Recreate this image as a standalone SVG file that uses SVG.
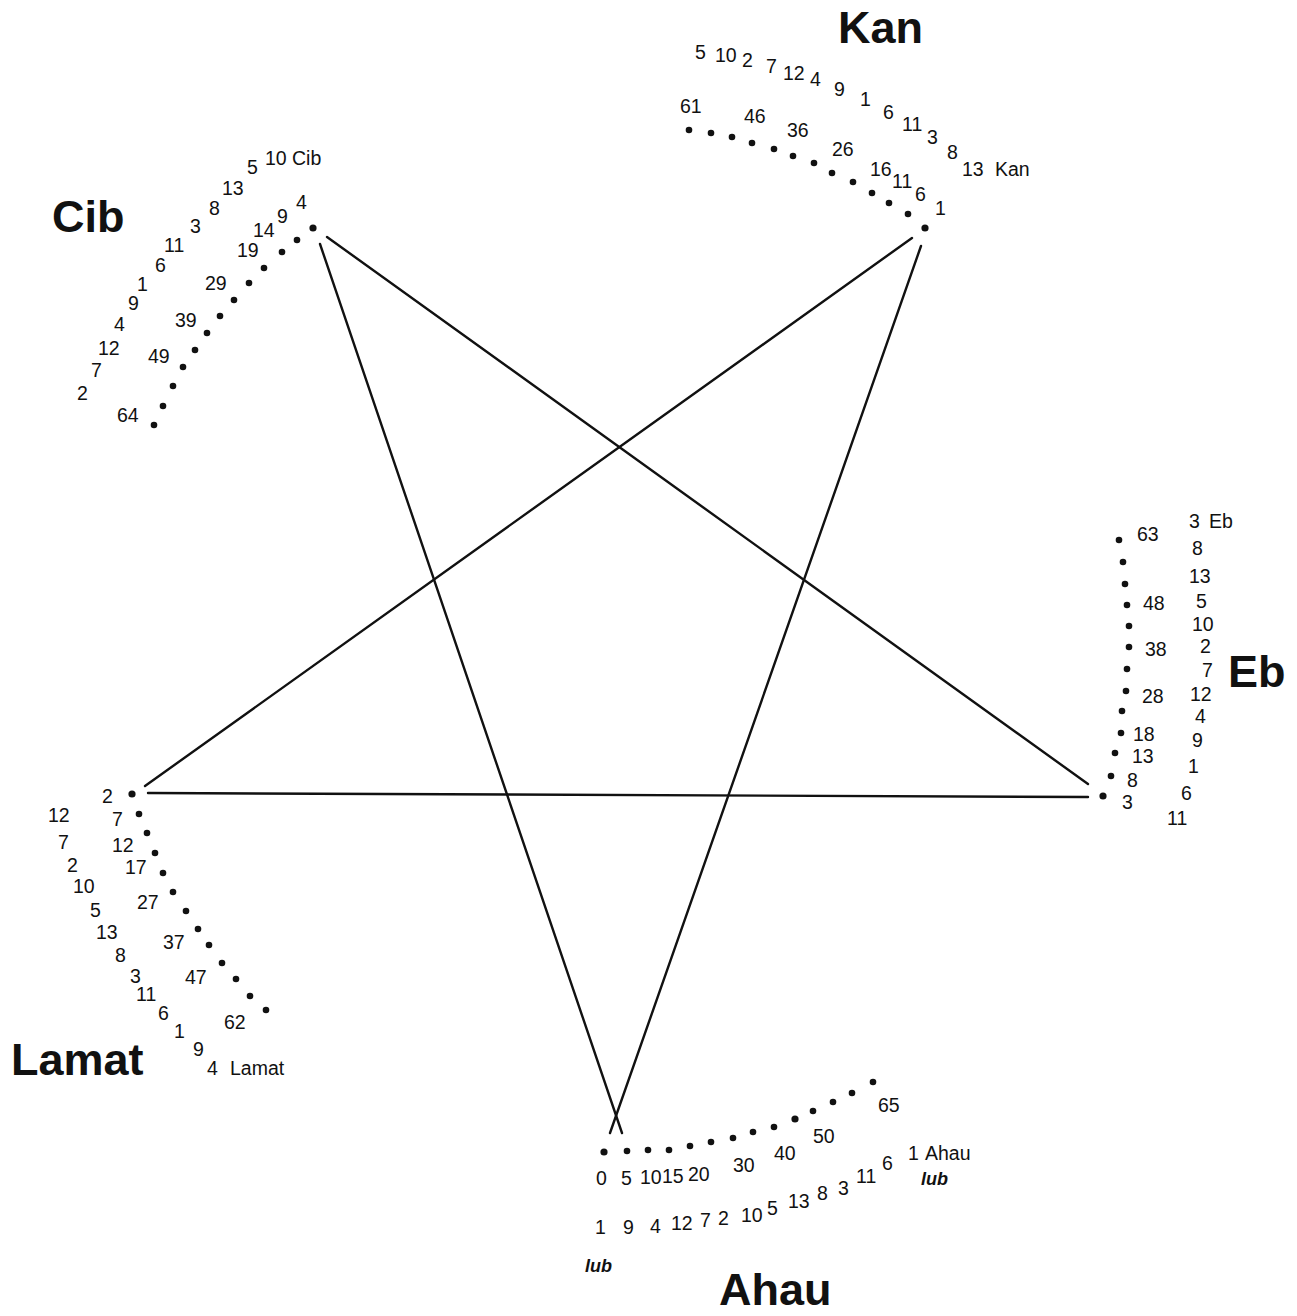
<svg xmlns="http://www.w3.org/2000/svg" width="1297" height="1316" viewBox="0 0 1297 1316">
<style>
text{font-family:"Liberation Sans",Arial,sans-serif;fill:#111}
.n{font-size:19.5px}
.b{font-size:45px;font-weight:bold}
.i{font-size:18px;font-style:italic;font-weight:bold}
.d circle{fill:#111}
.c line{stroke:#111;stroke-width:2.4;stroke-linecap:round}
</style>
<rect width="1297" height="1316" fill="#fff"/>
<g id="connectors" class="c">
<line x1="327" y1="237" x2="1088" y2="784"/>
<line x1="320" y1="244" x2="622" y2="1133"/>
<line x1="912" y1="238" x2="145" y2="786"/>
<line x1="921" y1="246" x2="610" y2="1133"/>
<line x1="148" y1="793" x2="1088" y2="797"/>
</g>
<g id="kan">
<text class="b" x="838" y="43">Kan</text>
<g class="d">
<circle cx="689" cy="130" r="3.3"/><circle cx="711" cy="133" r="3.3"/><circle cx="732" cy="137" r="3.3"/><circle cx="752" cy="143" r="3.3"/><circle cx="774" cy="149" r="3.3"/><circle cx="793" cy="156" r="3.3"/><circle cx="814" cy="163" r="3.3"/><circle cx="832" cy="173" r="3.3"/><circle cx="853" cy="182" r="3.3"/><circle cx="872" cy="193" r="3.3"/><circle cx="889" cy="203" r="3.3"/><circle cx="908" cy="214" r="3.3"/><circle cx="925" cy="228" r="3.6"/>
</g>
<g class="n">
<text x="695" y="59">5</text><text x="715" y="62">10</text><text x="742" y="67">2</text><text x="766" y="73">7</text><text x="783" y="80">12</text><text x="810" y="86">4</text><text x="834" y="96">9</text><text x="860" y="106">1</text><text x="883" y="119">6</text><text x="902" y="131">11</text><text x="927" y="144">3</text><text x="947" y="159">8</text><text x="962" y="176">13</text><text x="995" y="176">Kan</text>
<text x="680" y="113">61</text><text x="744" y="123">46</text><text x="787" y="137">36</text><text x="832" y="156">26</text><text x="870" y="176">16</text><text x="892" y="188">11</text><text x="915" y="201">6</text><text x="935" y="215">1</text>
</g>
</g>
<g id="cib">
<text class="b" x="52" y="232">Cib</text>
<g class="d">
<circle cx="313" cy="228" r="3.6"/><circle cx="297" cy="240" r="3.3"/><circle cx="282" cy="252" r="3.3"/><circle cx="264" cy="268" r="3.3"/><circle cx="249" cy="283" r="3.3"/><circle cx="234" cy="300" r="3.3"/><circle cx="220" cy="316" r="3.3"/><circle cx="207" cy="333" r="3.3"/><circle cx="195" cy="350" r="3.3"/><circle cx="183" cy="367" r="3.3"/><circle cx="173" cy="386" r="3.3"/><circle cx="163" cy="406" r="3.3"/><circle cx="154" cy="425" r="3.3"/>
</g>
<g class="n">
<text x="265" y="165">10</text><text x="292" y="165">Cib</text><text x="247" y="174">5</text><text x="222" y="195">13</text><text x="209" y="215">8</text><text x="190" y="233">3</text><text x="164" y="252">11</text><text x="155" y="272">6</text><text x="137" y="291">1</text><text x="128" y="310">9</text><text x="114" y="331">4</text><text x="98" y="355">12</text><text x="91" y="377">7</text><text x="77" y="400">2</text>
<text x="296" y="209">4</text><text x="277" y="223">9</text><text x="253" y="237">14</text><text x="237" y="257">19</text><text x="205" y="290">29</text><text x="175" y="327">39</text><text x="148" y="363">49</text><text x="117" y="422">64</text>
</g>
</g>
<g id="eb">
<text class="b" x="1228" y="687">Eb</text>
<g class="d">
<circle cx="1119" cy="540" r="3.3"/><circle cx="1123" cy="562" r="3.3"/><circle cx="1125" cy="584" r="3.3"/><circle cx="1127" cy="605" r="3.3"/><circle cx="1129" cy="626" r="3.3"/><circle cx="1129" cy="647" r="3.3"/><circle cx="1127" cy="669" r="3.3"/><circle cx="1126" cy="691" r="3.3"/><circle cx="1122" cy="711" r="3.3"/><circle cx="1121" cy="733" r="3.3"/><circle cx="1115" cy="753" r="3.3"/><circle cx="1111" cy="776" r="3.3"/><circle cx="1103" cy="796" r="3.6"/>
</g>
<g class="n">
<text x="1137" y="541">63</text><text x="1143" y="610">48</text><text x="1145" y="656">38</text><text x="1142" y="703">28</text><text x="1133" y="741">18</text><text x="1132" y="763">13</text><text x="1127" y="787">8</text><text x="1122" y="809">3</text>
<text x="1189" y="528">3</text><text x="1209" y="528">Eb</text><text x="1192" y="555">8</text><text x="1189" y="583">13</text><text x="1196" y="608">5</text><text x="1192" y="631">10</text><text x="1200" y="653">2</text><text x="1202" y="677">7</text><text x="1190" y="701">12</text><text x="1195" y="723">4</text><text x="1192" y="747">9</text><text x="1188" y="773">1</text><text x="1181" y="800">6</text><text x="1167" y="825">11</text>
</g>
</g>
<g id="lamat">
<text class="b" x="11" y="1075">Lamat</text>
<g class="d">
<circle cx="132" cy="794" r="3.6"/><circle cx="139" cy="814" r="3.3"/><circle cx="147" cy="833" r="3.3"/><circle cx="155" cy="853" r="3.3"/><circle cx="163" cy="873" r="3.3"/><circle cx="173" cy="892" r="3.3"/><circle cx="186" cy="911" r="3.3"/><circle cx="198" cy="929" r="3.3"/><circle cx="209" cy="945" r="3.3"/><circle cx="222" cy="963" r="3.3"/><circle cx="236" cy="979" r="3.3"/><circle cx="250" cy="996" r="3.3"/><circle cx="266" cy="1010" r="3.3"/>
</g>
<g class="n">
<text x="102" y="803">2</text><text x="112" y="826">7</text><text x="112" y="852">12</text><text x="125" y="874">17</text><text x="137" y="909">27</text><text x="163" y="949">37</text><text x="185" y="984">47</text><text x="224" y="1029">62</text>
<text x="48" y="822">12</text><text x="58" y="849">7</text><text x="67" y="872">2</text><text x="73" y="893">10</text><text x="90" y="917">5</text><text x="96" y="939">13</text><text x="115" y="962">8</text><text x="130" y="983">3</text><text x="136" y="1001">11</text><text x="158" y="1020">6</text><text x="174" y="1038">1</text><text x="193" y="1056">9</text><text x="207" y="1075">4</text><text x="230" y="1075">Lamat</text>
</g>
</g>
<g id="ahau">
<text class="b" x="719" y="1305">Ahau</text>
<g class="d">
<circle cx="604" cy="1152" r="3.6"/><circle cx="627" cy="1151" r="3.3"/><circle cx="648" cy="1150" r="3.3"/><circle cx="669" cy="1150" r="3.3"/><circle cx="690" cy="1146" r="3.3"/><circle cx="711" cy="1142" r="3.3"/><circle cx="733" cy="1138" r="3.3"/><circle cx="753" cy="1132" r="3.3"/><circle cx="774" cy="1127" r="3.3"/><circle cx="795" cy="1119" r="3.6"/><circle cx="813" cy="1111" r="3.3"/><circle cx="833" cy="1102" r="3.3"/><circle cx="852" cy="1093" r="3.3"/><circle cx="873" cy="1082" r="3.3"/>
</g>
<g class="n">
<text x="596" y="1185">0</text><text x="621" y="1185">5</text><text x="640" y="1184">10</text><text x="662" y="1183">15</text><text x="688" y="1181">20</text><text x="733" y="1172">30</text><text x="774" y="1160">40</text><text x="813" y="1143">50</text><text x="878" y="1112">65</text>
<text x="595" y="1234">1</text><text x="623" y="1234">9</text><text x="650" y="1233">4</text><text x="671" y="1230">12</text><text x="700" y="1227">7</text><text x="718" y="1225">2</text><text x="741" y="1222">10</text><text x="767" y="1215">5</text><text x="788" y="1208">13</text><text x="817" y="1200">8</text><text x="838" y="1195">3</text><text x="856" y="1183">11</text><text x="882" y="1170">6</text><text x="908" y="1160">1</text><text x="925" y="1160">Ahau</text>
</g>
<text class="i" x="921" y="1185">lub</text>
<text class="i" x="585" y="1272">lub</text>
</g>
</svg>
